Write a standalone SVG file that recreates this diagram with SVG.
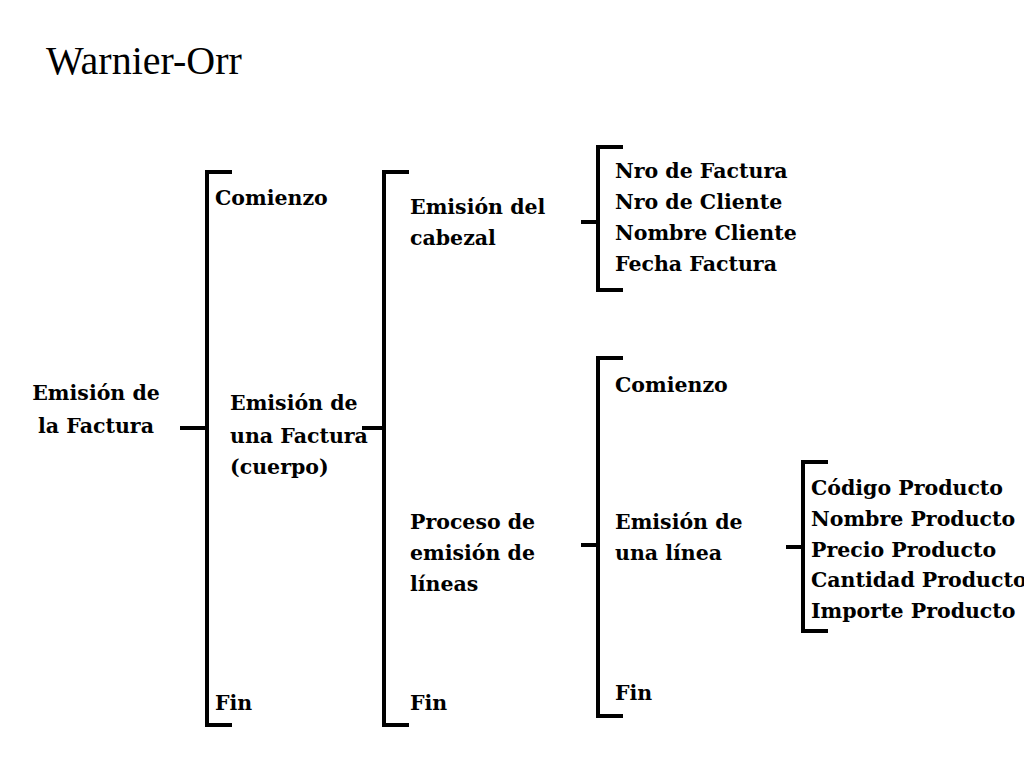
<svg xmlns="http://www.w3.org/2000/svg" width="1024" height="768" viewBox="0 0 1024 768">
<style>
.b{fill:none;stroke:#000;stroke-width:4}
.t{font-family:"DejaVu Serif",serif;font-weight:bold;font-size:20.5px;fill:#000}
.h{font-family:"Liberation Serif",serif;font-size:40px;fill:#000}
</style>
<rect width="1024" height="768" fill="#fff"/>
<text class="h" x="46" y="74">Warnier-Orr</text>
<g id="connectors">
<path class="b" d="M232,172H207V725H232M180,428H207"/>
<path class="b" d="M409,172H384V725H409M362,428H384"/>
<path class="b" d="M623,147H598V290H623M581,222H598"/>
<path class="b" d="M623,358H598V716H623M581,545H598"/>
<path class="b" d="M828,462H803V631H828M786,547H803"/>
</g>
<g id="root"><text class="t" x="96" y="400" text-anchor="middle">Emisión de</text><text class="t" x="96" y="433" text-anchor="middle">la Factura</text></g>
<g id="comienzo1"><text class="t" x="215" y="205">Comienzo</text></g>
<g id="cuerpo"><text class="t" x="230" y="410">Emisión de</text><text class="t" x="230" y="443">una Factura</text><text class="t" x="230" y="474">(cuerpo)</text></g>
<g id="fin1"><text class="t" x="215" y="710">Fin</text></g>
<g id="cabezal"><text class="t" x="410" y="214">Emisión del</text><text class="t" x="410" y="245">cabezal</text></g>
<g id="proceso"><text class="t" x="410" y="529">Proceso de</text><text class="t" x="410" y="560">emisión de</text><text class="t" x="410" y="591">líneas</text></g>
<g id="fin2"><text class="t" x="410" y="710">Fin</text></g>
<g id="cabezal-campos"><text class="t" x="615" y="178">Nro de Factura</text><text class="t" x="615" y="209">Nro de Cliente</text><text class="t" x="615" y="240">Nombre Cliente</text><text class="t" x="615" y="271">Fecha Factura</text></g>
<g id="comienzo2"><text class="t" x="615" y="392">Comienzo</text></g>
<g id="linea"><text class="t" x="615" y="529">Emisión de</text><text class="t" x="615" y="560">una línea</text></g>
<g id="fin3"><text class="t" x="615" y="700">Fin</text></g>
<g id="producto"><text class="t" x="811" y="495">Código Producto</text><text class="t" x="811" y="526">Nombre Producto</text><text class="t" x="811" y="557">Precio Producto</text><text class="t" x="811" y="587">Cantidad Producto</text><text class="t" x="811" y="618">Importe Producto</text></g>
</svg>
